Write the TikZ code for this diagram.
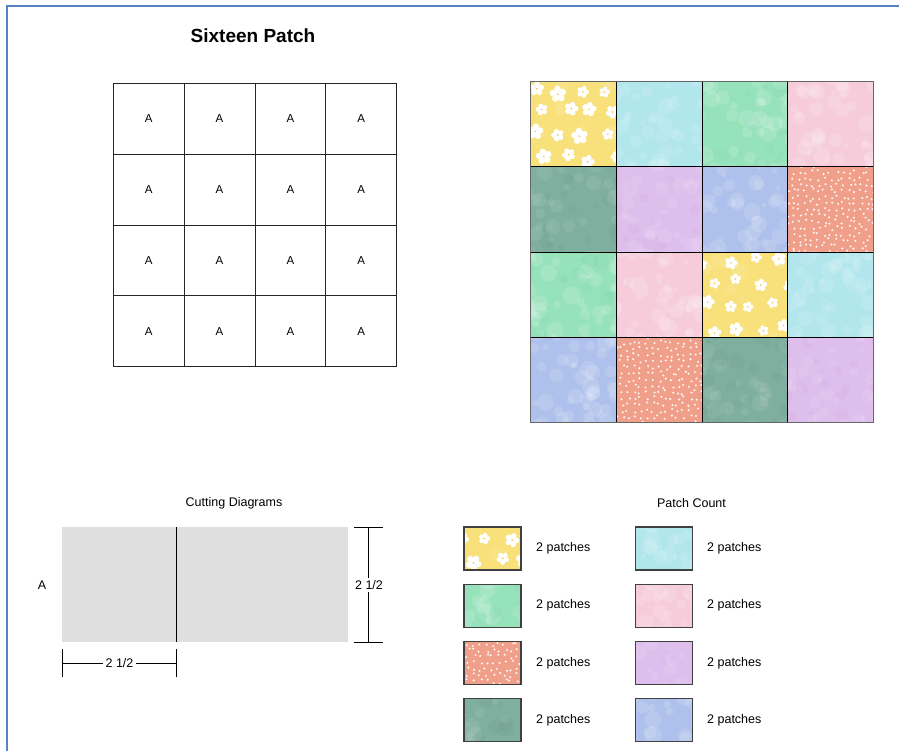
\documentclass[tikz,border=0pt]{standalone}
\usepackage{fontspec}
\setmainfont{Liberation Sans}
\definecolor{cYel}{HTML}{F8E17A}
\definecolor{cCya}{HTML}{B0E6EC}
\definecolor{cGre}{HTML}{96E2BB}
\definecolor{cPin}{HTML}{F6CCDB}
\definecolor{cTea}{HTML}{7FAF9F}
\definecolor{cLil}{HTML}{DDBEEC}
\definecolor{cBlu}{HTML}{AEC1EC}
\definecolor{cSal}{HTML}{F0A08A}
\definecolor{cCut}{HTML}{DFDFDF}
\definecolor{cFrame}{HTML}{5584C2}
\newcommand\mottle[4]{\foreach \k in {1,...,#1}{\pgfmathsetmacro\rx{rnd*100-50}\pgfmathsetmacro\ry{rnd*100-50}\pgfmathsetmacro\rr{rnd*#4+2}\fill[#2,opacity=#3] (\rx,\ry) circle (\rr);}}
\newcommand\flowers{\foreach \j in {-1.5,-0.5,0.5,1.5}{\foreach \i in {-1.5,-0.5,0.5,1.5}{\pgfmathsetmacro\rx{\i*24+mod(\j+1.5,2)*10-5+rnd*10-5}\pgfmathsetmacro\ry{\j*23+rnd*9-4.5}\pgfmathsetmacro\rs{rnd*3+5.3}\pgfmathsetmacro\ro{rnd*72}%
  \foreach \p in {0,72,...,288}{\pgfmathsetmacro\px{\rx+\rs*0.62*cos(\p+\ro)}\pgfmathsetmacro\py{\ry+\rs*0.62*sin(\p+\ro)}\pgfmathsetmacro\pr{\rs*0.4}\fill[white] (\px,\py) circle (\pr);}%
  \fill[white] (\rx,\ry) circle ({\rs*0.35});
  \fill[cYel!50!orange] (\rx,\ry) circle (0.8);}}}
\newcommand\fabdots{\foreach \i in {-7,...,7}{\foreach \j in {-7,...,7}{\pgfmathsetmacro\rx{\i*6.2+rnd*4.5-2.25}\pgfmathsetmacro\ry{\j*6.2+rnd*4.5-2.25}\fill[white!92!cSal] (\rx,\ry) circle (1.15);}}}
\tikzset{
  fab/.style={path picture={\begin{scope}[shift={(path picture bounding box.center)}]#1\end{scope}}},
  fyel/.style={fill=cYel, fab={\mottle{15}{white}{0.1}{6}\flowers}},
  fcya/.style={fill=cCya, fab={\mottle{50}{white}{0.12}{7}}},
  fgre/.style={fill=cGre, fab={\mottle{45}{white}{0.14}{7}\mottle{20}{cGre!80!teal}{0.12}{6}}},
  fpin/.style={fill=cPin, fab={\mottle{50}{white}{0.14}{7}}},
  ftea/.style={fill=cTea, fab={\mottle{30}{white}{0.08}{7}\mottle{25}{cTea!82!black}{0.1}{6}}},
  flil/.style={fill=cLil, fab={\mottle{40}{white}{0.1}{6}\mottle{20}{cLil!80!violet}{0.1}{5}}},
  fblu/.style={fill=cBlu, fab={\mottle{50}{white}{0.14}{7}}},
  fsal/.style={fill=cSal, fab={\fabdots}},
  cell/.style={draw=black!85, line width=0.9pt, minimum size=70.85pt, inner sep=0, font=\fontsize{11.5}{13}\selectfont},
  fcell/.style={draw=black, line width=0.8pt, minimum width=85.65pt, minimum height=85.15pt, inner sep=0},
  swatch/.style={draw=black!75, line width=1.1pt, minimum width=57pt, minimum height=43pt, inner sep=0},
  lab/.style={font=\fontsize{12.5}{14}\selectfont, inner sep=0},
  dimlab/.style={font=\fontsize{12.5}{14}\selectfont, fill=white, inner sep=2.5pt},
  dimline/.style={draw=black, line width=0.9pt},
}
\begin{document}
\begin{tikzpicture}[x=1pt,y=-1pt]
\pgfmathsetseed{4217}
\useasboundingbox (0,0) rectangle (899,751);
\fill[white] (0,0) rectangle (899,751);
\draw[cFrame, line width=2.6pt] (7,751) -- (7,6) -- (899,6);
% title
\node[font=\fontsize{19}{22}\selectfont\bfseries, inner sep=0] (title) at (253,36) {Sixteen Patch};
% piece grid
\foreach \r in {1,...,4}{\foreach \c in {1,...,4}{%
  \node[cell] (a\r\c) at ({113.3+70.85*(\c-0.5)},{83.3+70.85*(\r-0.5)}) {A};}}
% fabric grid
\foreach \f [count=\n from 0] in {fyel,fcya,fgre,fpin,ftea,flil,fblu,fsal,fgre,fpin,fyel,fcya,fblu,fsal,ftea,flil}{%
  \pgfmathtruncatemacro\rr{div(\n,4)}\pgfmathtruncatemacro\cc{mod(\n,4)}%
  \node[fcell,\f] (f\rr\cc) at ({530.7+85.65*(\cc+0.5)},{81.7+85.15*(\rr+0.5)}) {};}
\draw[black!60, line width=1.5pt] (f00.north west) rectangle (f33.south east);
% cutting diagrams
\node[lab] (cuttitle) at (234,503) {Cutting Diagrams};
\node[fill=cCut, minimum width=286.3pt, minimum height=115pt, inner sep=0] (cut) at (205.1,584.5) {};
\coordinate (cutT) at (176.7,527);
\coordinate (cutB) at (176.7,642);
\draw[dimline] (cutT) -- (cutB);
\node[lab] (pieceA) at (42,585) {A};
% right dimension
\coordinate (rT) at (368.7,527);
\coordinate (rB) at (368.7,642);
\draw[dimline] (rT) -- (rB);
\draw[dimline] (354,527) -- (383,527);
\draw[dimline] (354,642) -- (383,642);
\node[dimlab] (dimR) at (369,585) {2 1/2};
% bottom dimension
\coordinate (bL) at (62.3,663.5);
\coordinate (bR) at (176.7,663.5);
\draw[dimline] (bL) -- (bR);
\draw[dimline] (62.3,649) -- (62.3,677);
\draw[dimline] (176.7,649) -- (176.7,677);
\node[dimlab] (dimB) at (119.5,663.5) {2 1/2};
% patch count
\node[lab] (pctitle) at (691.5,503) {Patch Count};
\foreach \f [count=\n from 0] in {fyel,fgre,fsal,ftea}{%
  \node[swatch,\f] (sl\n) at (492.5,{548.5+57.2*\n}) {};
  \node[lab, anchor=west] (tl\n) at (536,{548.5+57.2*\n}) {2 patches};}
\foreach \f [count=\n from 0] in {fcya,fpin,flil,fblu}{%
  \node[swatch,\f] (sr\n) at (664,{548.5+57.2*\n}) {};
  \node[lab, anchor=west] (tr\n) at (707,{548.5+57.2*\n}) {2 patches};}
\end{tikzpicture}
\end{document}
